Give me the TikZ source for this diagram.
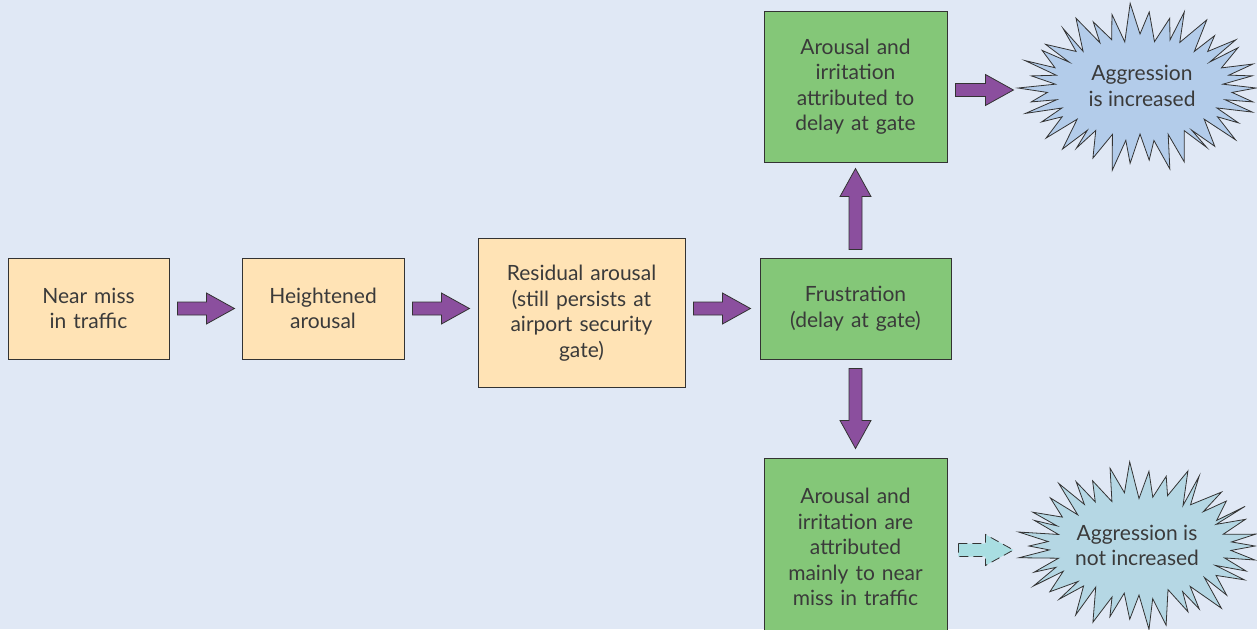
\documentclass[tikz,border=0pt]{standalone}
\usepackage{fontspec}
\setmainfont{Lato}
\usetikzlibrary{calc}
\definecolor{bg}{HTML}{E0E8F5}
\definecolor{boxorange}{HTML}{FFE3B5}
\definecolor{boxgreen}{HTML}{84C778}
\definecolor{arrpurple}{HTML}{8B4F9E}
\definecolor{burstA}{HTML}{B3CCEA}
\definecolor{burstB}{HTML}{B5D7E4}
\definecolor{arrcyan}{HTML}{A9DEE2}
\definecolor{edge}{HTML}{333333}
\definecolor{txt}{HTML}{3A3A3A}
\tikzset{
  boxbase/.style={draw=edge, line width=0.9pt, inner sep=0pt, align=center,
    text=txt, font=\fontsize{21}{25.5}\selectfont},
  orangebox/.style={boxbase, fill=boxorange},
  greenbox/.style={boxbase, fill=boxgreen},
  burstshape/.style={draw=edge, line width=0.8pt, line join=miter},
  bursttext/.style={align=center, text=txt, inner sep=0pt, font=\fontsize{21}{25.5}\selectfont},
  blk/.style={draw=edge, line width=0.8pt, fill=arrpurple},
  blkdash/.style={draw=edge, line width=0.8pt, fill=arrcyan, dashed, dash pattern=on 9pt off 5pt},
  pics/blockarrow/.style={code={
    \path[pic actions] (0,-6.5) -- (#1-28,-6.5) -- (#1-28,-15.5) -- (#1,0)
      -- (#1-28,15.5) -- (#1-28,6.5) -- (0,6.5) -- cycle;
  }}
}
\begin{document}
\begin{tikzpicture}[x=1pt,y=-1pt]
\useasboundingbox (0,0) rectangle (1257,629);
\clip (0,0) rectangle (1257,629);
\fill[bg] (0,0) rectangle (1257,629);

\node[orangebox, minimum width=161pt, minimum height=101pt, text width=150pt] (b1) at (88.5,308.5) {Near miss\\in traffic};
\node[orangebox, minimum width=162pt, minimum height=101pt, text width=150pt] (b2) at (323,308.5) {Heightened\\arousal};
\node[orangebox, minimum width=207pt, minimum height=149pt, text width=196pt] (b3) at (581.5,313) {Residual arousal\\(still persists at\\airport security\\gate)};
\node[greenbox, minimum width=191pt, minimum height=101pt, text width=180pt] (b4) at (855.5,308.5) {Frustration\\(delay at gate)};
\node[greenbox, minimum width=183pt, minimum height=151pt, text width=172pt] (b5) at (855.5,86.5) {Arousal and\\irritation\\attributed to\\delay at gate};
\node[greenbox, minimum width=183pt, minimum height=178pt, text width=172pt] (b6) at (855.5,547) {Arousal and\\irritation are\\attributed\\mainly to near\\miss in traffic};

% starbursts
\draw[burstshape, fill=burstA] plot[samples at={0,...,75}, variable=\t]
  ({1140 + (mod(\t,2)==0 ? 116+6*sin(\t*97) : 88+5*sin(\t*61))*cos(\t*4.7368)},
   {88 + (mod(\t,2)==0 ? 78+7*sin(\t*53) : 50+4*sin(\t*71))*sin(\t*4.7368)}) -- cycle;
\node[bursttext] (g1) at (1142,86) {Aggression\\is increased};

\draw[burstshape, fill=burstB] plot[samples at={0,...,75}, variable=\t]
  ({1139 + (mod(\t,2)==0 ? 116+6*sin(\t*83) : 88+5*sin(\t*59))*cos(\t*4.7368)},
   {546 + (mod(\t,2)==0 ? 78+7*sin(\t*47) : 50+4*sin(\t*67))*sin(\t*4.7368)}) -- cycle;
\node[bursttext] (g2) at (1137,545.5) {Aggression is\\not increased};

% block arrows
\pic[blk] at ($(b1.east)+(8,0)$) {blockarrow=57};
\pic[blk] at ($(b2.east)+(8,0)$) {blockarrow=57};
\pic[blk] at ($(b3.east)+(8,-4.5)$) {blockarrow=57};
\pic[blk, rotate=90] at ($(b4.north)+(0,-8)$) {blockarrow=81};
\pic[blk, rotate=-90] at ($(b4.south)+(0,9)$) {blockarrow=80};
\pic[blk] at ($(b5.east)+(8,3.5)$) {blockarrow=58};
\pic[blkdash] at ($(b6.east)+(11,3)$) {blockarrow=55};
\end{tikzpicture}
\end{document}
